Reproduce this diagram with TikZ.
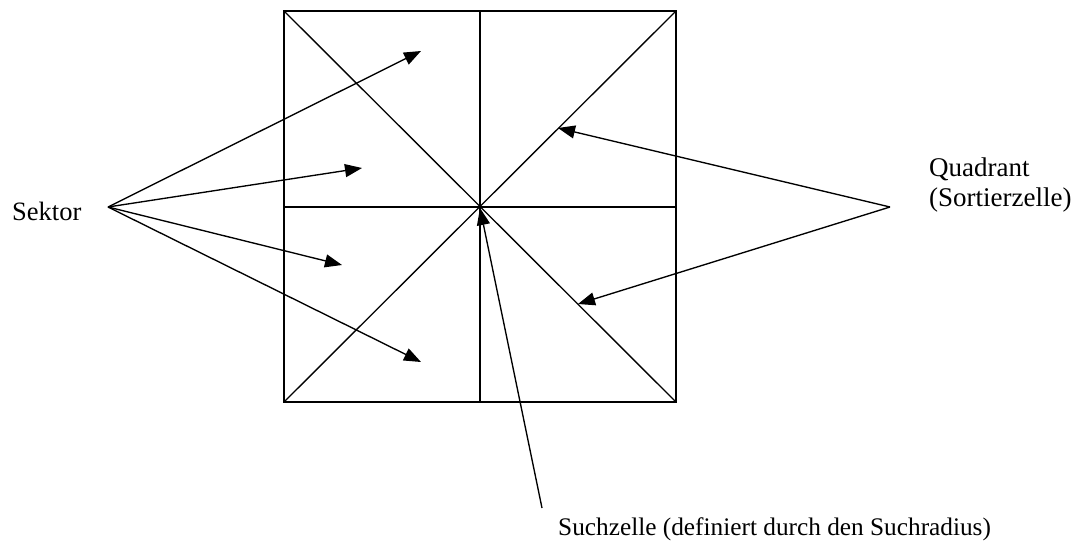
\documentclass[tikz,border=0pt]{standalone}
\usepackage{fontspec}
\setmainfont{Liberation Serif}
\usetikzlibrary{arrows.meta}
\begin{document}
\begin{tikzpicture}[x=1pt,y=-1pt,
  ln/.style={line width=1.35pt, line cap=butt},
  arr/.style={ln, -{Triangle[length=17pt,width=13pt]}},
  lbl/.style={font=\fontsize{26.5pt}{30pt}\selectfont, inner sep=0pt}]
\useasboundingbox (0,0) rectangle (1076,541);
% square
\coordinate (tl) at (284,11);
\coordinate (tr) at (676,11);
\coordinate (bl) at (284,402);
\coordinate (br) at (676,402);
\coordinate (c) at (480,207);
\draw[ln] (tl) rectangle (br);
\draw[ln] (tl) -- (br);
\draw[ln] (tr) -- (bl);
\draw[ln] (480,11) -- (480,402);
\draw[ln] (284,207) -- (676,207);
% labels
\node[lbl, anchor=base west] (sektor) at (12,220) {Sektor};
\node[lbl, font=\fontsize{27pt}{30pt}\selectfont, anchor=base west, align=left] (quad) at (929,206) {Quadrant\\(Sortierzelle)};
\node[lbl, font=\fontsize{25.3pt}{30pt}\selectfont, anchor=base west] (such) at (558,535) {Suchzelle (definiert durch den Suchradius)};
% connector points
\coordinate (s0) at (108,207);
\coordinate (q0) at (890,207);
\coordinate (z0) at (542,508);
\coordinate (t1) at (421,51);
\coordinate (t2) at (362,168);
\coordinate (t3) at (342,265);
\coordinate (t4) at (421,362);
\coordinate (qa) at (558,128);
\coordinate (qb) at (578,304);
\coordinate (zc) at (480,208);
% arrows
\draw[arr] (s0) -- (t1);
\draw[arr] (s0) -- (t2);
\draw[arr] (s0) -- (t3);
\draw[arr] (s0) -- (t4);
\draw[arr] (q0) -- (qa);
\draw[arr] (q0) -- (qb);
\draw[arr] (z0) -- (zc);
\end{tikzpicture}
\end{document}
